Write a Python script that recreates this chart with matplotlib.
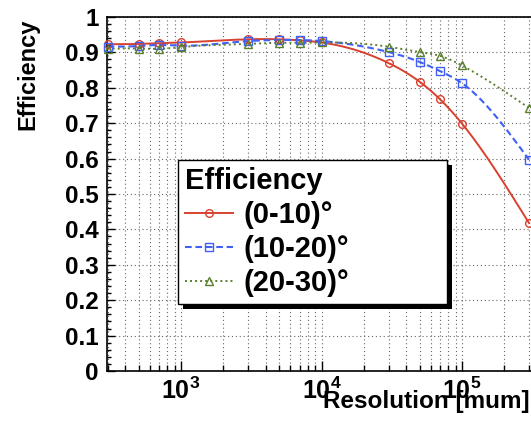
import numpy as np
import matplotlib
matplotlib.use("Agg")
import matplotlib.pyplot as plt
from matplotlib.ticker import LogLocator, MultipleLocator, FuncFormatter, NullFormatter
from matplotlib.patches import Rectangle

plt.rcParams['font.family'] = ['Liberation Sans', 'DejaVu Sans']
plt.rcParams['font.weight'] = 'bold'
plt.rcParams['mathtext.fontset'] = 'custom'
plt.rcParams['mathtext.rm'] = 'Liberation Sans:bold'
plt.rcParams['mathtext.bf'] = 'Liberation Sans:bold'
plt.rcParams['mathtext.it'] = 'Liberation Sans:bold'

# ---- data ----
resolution = [300, 500, 700, 1000, 3000, 5000, 7000, 10000, 30000, 50000, 70000, 100000, 300000]
eff_0_10 = [0.923, 0.924, 0.926, 0.928, 0.937, 0.937, 0.934, 0.928, 0.870, 0.817, 0.767, 0.699, 0.418]
eff_10_20 = [0.916, 0.918, 0.921, 0.919, 0.932, 0.935, 0.935, 0.932, 0.901, 0.873, 0.847, 0.813, 0.597]
eff_20_30 = [0.910, 0.911, 0.910, 0.915, 0.924, 0.927, 0.927, 0.928, 0.916, 0.901, 0.890, 0.863, 0.743]
labels = ['(0-10)°', '(10-20)°', '(20-30)°']
legend_title = 'Efficiency'
x_label = 'Resolution [mum]'
y_label = 'Efficiency'

colors = ['#d8412f', '#3f5ff5', '#5a7f2e']
markers = ['o', 's', '^']
styles = ['-', (0, (3.2, 1.8)), (0, (1, 1.6))]
widths = [1.4, 1.5, 1.4]


def smooth(xs, ys, n=400):
    """Natural cubic spline through the points in log10(x) space (drawing only)."""
    t = np.log10(np.asarray(xs, float))
    y = np.asarray(ys, float)
    m = len(t)
    h = np.diff(t)
    A = np.zeros((m, m))
    b = np.zeros(m)
    A[0, 0] = A[-1, -1] = 1.0
    for i in range(1, m - 1):
        A[i, i - 1] = h[i - 1]
        A[i, i] = 2 * (h[i - 1] + h[i])
        A[i, i + 1] = h[i]
        b[i] = 6 * ((y[i + 1] - y[i]) / h[i] - (y[i] - y[i - 1]) / h[i - 1])
    M = np.linalg.solve(A, b)
    tt = np.linspace(t[0], t[-1], n)
    idx = np.clip(np.searchsorted(t, tt) - 1, 0, m - 2)
    t0, t1 = t[idx], t[idx + 1]
    hh = t1 - t0
    a = (t1 - tt) / hh
    c = (tt - t0) / hh
    yy = (a * y[idx] + c * y[idx + 1]
          + ((a ** 3 - a) * M[idx] + (c ** 3 - c) * M[idx + 1]) * hh ** 2 / 6)
    return 10 ** tt, yy


W, H = 531, 426
fig = plt.figure(figsize=(W / 100, H / 100), dpi=100)
ax = fig.add_axes([107 / W, (H - 371) / H, (W - 107) / W, 354 / H])

series = [eff_0_10, eff_10_20, eff_20_30]
handles = []
for ys, col, mk, ls, lw, lab in zip(series, colors, markers, styles, widths, labels):
    sx, sy = smooth(resolution, ys)
    ax.plot(sx, sy, color=col, linestyle=ls, lw=lw, zorder=3)
    ax.plot(resolution, ys, linestyle='none', marker=mk, markersize=5.5,
            markerfacecolor='none', markeredgecolor=col, markeredgewidth=1.0,
            clip_on=False, zorder=4)
    h, = ax.plot([], [], color=col, linestyle=ls, lw=lw, marker=mk, markersize=5.5,
                 markerfacecolor='none', markeredgecolor=col, markeredgewidth=1.0,
                 label=lab)
    handles.append(h)

ax.set_xscale('log')
ax.set_xlim(297, 3.1e5)
ax.set_ylim(0, 1)

ax.xaxis.set_major_locator(LogLocator(base=10, numticks=10))
ax.xaxis.set_minor_locator(LogLocator(base=10, subs=np.arange(2, 10), numticks=20))
ax.xaxis.set_major_formatter(FuncFormatter(lambda v, p: r'$\mathbf{10^{%d}}$' % round(np.log10(v))))
ax.xaxis.set_minor_formatter(NullFormatter())
ax.yaxis.set_major_locator(MultipleLocator(0.1))
ax.yaxis.set_minor_locator(MultipleLocator(0.02))
ax.yaxis.set_major_formatter(FuncFormatter(lambda v, p: '0' if abs(v) < 1e-9 else ('1' if abs(v - 1) < 1e-9 else ('%.1f' % v))))

ax.tick_params(axis='both', which='both', direction='in', top=False, right=False)
ax.tick_params(axis='x', which='major', length=7, width=1, pad=5, labelsize=18)
ax.tick_params(axis='x', which='minor', length=4, width=1)
ax.tick_params(axis='y', which='major', length=6, width=1, pad=6, labelsize=17.5)
ax.tick_params(axis='y', which='minor', length=3, width=1)

ax.grid(True, which='major', axis='y', color='0.4', linestyle=(0, (1, 2.5)), lw=0.8)
ax.grid(True, which='both', axis='x', color='0.4', linestyle=(0, (1, 2.5)), lw=0.8)
ax.set_axisbelow(True)

for s in ['left', 'bottom', 'top']:
    ax.spines[s].set_linewidth(1.2)
ax.spines['right'].set_visible(False)

fig.text(28 / W, 1 - 19 / H, y_label, rotation=90, ha='center', va='top',
         fontsize=17, fontweight='bold')
fig.text(530 / W, 1 - 408 / H, x_label, ha='right', va='baseline',
         fontsize=17.5, fontweight='bold')

leg = ax.legend(handles=handles, title=legend_title, loc='upper left',
                bbox_to_anchor=(178 / W, 1 - 300 / H, 269 / W, 140 / H),
                bbox_transform=fig.transFigure, mode='expand',
                prop={'size': 21, 'weight': 'bold'},
                title_fontproperties={'size': 21, 'weight': 'bold'},
                alignment='left', frameon=True, fancybox=False,
                edgecolor='black', framealpha=1, borderaxespad=0,
                borderpad=0.25, labelspacing=0.2, handlelength=1.65,
                handletextpad=0.35)
leg.get_frame().set_linewidth(1.0)
leg.set_zorder(6)

fig.canvas.draw()
bb = leg.get_window_extent()
inv = ax.transAxes.inverted()
(x0, y0), (x1, y1) = inv.transform([(bb.x0 + 5, bb.y0 - 5), (bb.x1 + 5, bb.y1 - 5)])
ax.add_patch(Rectangle((x0, y0), x1 - x0, y1 - y0, transform=ax.transAxes,
                       facecolor='black', edgecolor='none', zorder=5.5, clip_on=False))

fig.savefig('out.png', dpi=100)
